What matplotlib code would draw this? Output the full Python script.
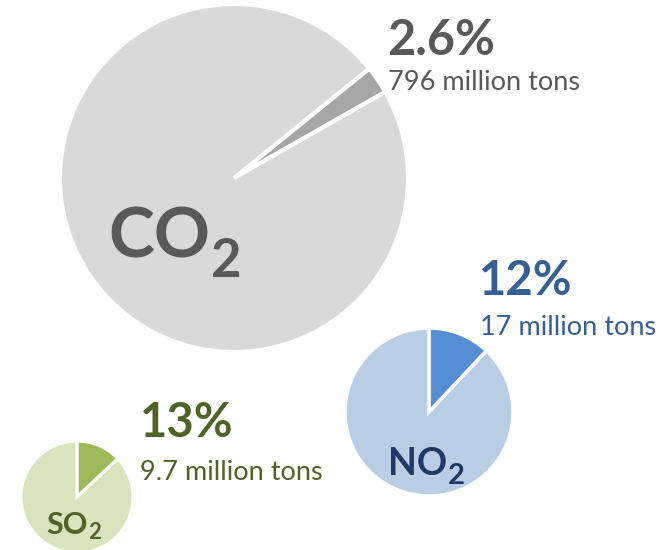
import matplotlib.pyplot as plt

# data
gases = ['CO', 'NO', 'SO']
shares = [2.6, 12, 13]          # percent
amounts = ['796', '17', '9.7']  # million tons

main_colors = ['#d9d9d9', '#b9cde5', '#d7e4bd']
slice_colors = ['#a6a6a6', '#558ed5', '#9bbb59']
text_colors = ['#595959', '#376092', '#4f6228']
label_colors = ['#595959', '#1f3864', '#4f6228']

# layout in pixels, y measured from the top
H = 550
centers = [(234, 178), (429, 412), (77, 497)]
radii = [174, 84, 56]
starts = [39, 90, 90]
edge_w = [3, 2.5, 2.2]

pct_pos = [(387, 55), (479, 295), (140, 437)]
pct_size = [35, 34, 34]
amt_pos = [(388, 90), (480, 335), (140, 480)]
amt_size = [19.5, 19.5, 19.5]
lab_pos = [(108, 258), (388, 475), (46, 534)]
lab_size = [50, 27, 22]
sub_drop = [16, 8, 4]
sub_size = [38, 21, 16]

plt.rcParams['font.family'] = ['Lato', 'DejaVu Sans']

fig = plt.figure(figsize=(6.69, 5.5), dpi=100)
ax = fig.add_axes([0, 0, 1, 1])
ax.set_xlim(0, 669)
ax.set_ylim(0, H)

for i in range(3):
    cx, cy = centers[i]
    ax.pie([shares[i], 100 - shares[i]], colors=[slice_colors[i], main_colors[i]],
           startangle=starts[i], counterclock=False, radius=radii[i],
           center=(cx, H - cy), frame=True,
           wedgeprops=dict(edgecolor='white', linewidth=edge_w[i]))

    x, y = pct_pos[i]
    ax.text(x, H - y, f'{shares[i]:g}%', fontsize=pct_size[i], fontweight='bold',
            color=text_colors[i], ha='left', va='baseline')
    x, y = amt_pos[i]
    ax.text(x, H - y, f'{amounts[i]} million tons', fontsize=amt_size[i],
            color=text_colors[i], ha='left', va='baseline')
    x, y = lab_pos[i]
    t = ax.text(x, H - y, gases[i], fontsize=lab_size[i], fontweight='bold',
                color=label_colors[i], ha='left', va='baseline')
    # subscript placed right after the formula letters
    ax.annotate('2', xy=(1, 0), xycoords=t, xytext=(1, -sub_drop[i]),
                textcoords='offset pixels', fontsize=sub_size[i], fontweight='bold',
                color=label_colors[i], ha='left', va='bottom')

ax.set_xlim(0, 669)
ax.set_ylim(0, H)
ax.set_aspect('equal')
ax.axis('off')

fig.savefig('out.png', dpi=100)
